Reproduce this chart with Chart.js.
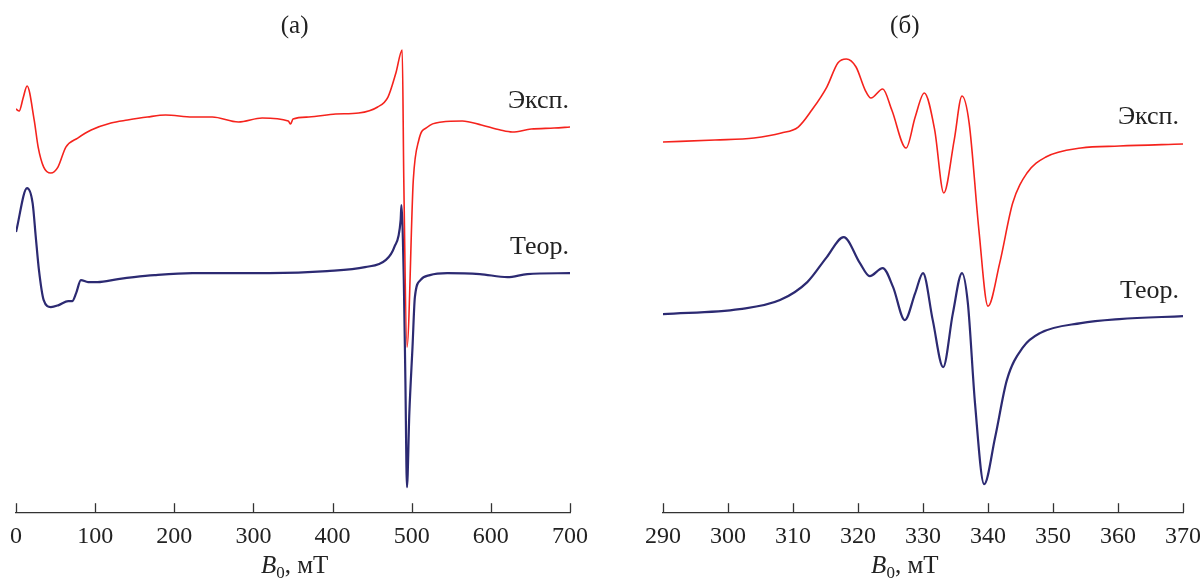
<!DOCTYPE html>
<html>
<head>
<meta charset="utf-8">
<script src="https://cdn.jsdelivr.net/npm/chart.js@4"></script>
<style>
  html, body { margin: 0; padding: 0; background: #fff; }
  #wrap { position: relative; width: 1200px; height: 579px; overflow: hidden; }
  .panel { position: absolute; top: 0; height: 579px; }
</style>
</head>
<body>
<div id="wrap">
  <div class="panel" style="left:0; width:600px"><canvas id="chartA"></canvas></div>
  <div class="panel" style="left:600px; width:620px"><canvas id="chartB"></canvas></div>
</div>
<script>
// (а) field, mT and signal, arb. units
const aExpField = [0, 4, 9, 14, 23, 28, 35, 44, 53, 63, 78, 95, 120, 141, 166, 189, 223, 248, 281, 311, 344, 347, 350, 370, 404, 433, 457, 470, 480, 488, 490, 494, 502, 509, 520, 538, 564, 588, 612, 627, 651, 680, 700];
const aExpSignal = [403, 401, 414, 426, 392, 365, 345, 339, 345, 365, 374, 382, 389, 392, 395, 397, 395, 395, 390, 394, 391, 388, 393, 395, 398, 399, 405, 415, 439, 462, 332, 165, 332, 372, 385, 390, 391, 387, 382, 380, 383, 384, 385];
const aTheoField = [0, 14, 21, 25, 29, 35, 44, 54, 66, 71, 76, 82, 91, 103, 129, 149, 175, 223, 320, 393, 441, 467, 478, 486, 487, 490, 492, 494, 497, 501, 504, 511, 523, 545, 586, 621, 646, 700];
const aTheoSignal = [280, 324, 309, 275, 242, 212, 205, 207, 211, 211, 219, 232, 230, 230, 233, 235, 237, 239, 239, 241, 245, 252, 265, 292, 307, 232, 132, 25, 99, 165, 215, 232, 237, 239, 238, 235, 238, 239];

// (б)
const bExpField = [290, 298, 304, 308.2, 310.8, 312.9, 315.2, 316.9, 318.2, 319.7, 321.1, 322, 323.8, 325.2, 327.4, 328.8, 330.2, 331.8, 333.2, 334.8, 336, 337.1, 338.6, 340, 341.8, 343.8, 346, 348.9, 354.3, 360.2, 370];
const bExpSignal = [370, 372, 374, 379, 385, 402, 425, 449, 453, 445, 422, 414, 423, 402, 364, 395, 419, 382, 319, 372, 416, 389, 282, 206, 249, 309, 339, 355, 364, 366, 368];
const bTheoField = [290, 301.8, 308, 312.2, 315.2, 317.8, 320.3, 321.8, 323.8, 325.4, 327.2, 328.8, 330, 331.5, 333.1, 334.6, 336, 336.9, 338, 339.4, 341.1, 342.9, 345.4, 348, 354.3, 360.2, 370];
const bTheoSignal = [198, 203, 212, 230, 255, 275, 249, 236, 244, 225, 192, 219, 239, 192, 145, 199, 239, 209, 109, 28, 75, 132, 165, 179, 189, 193, 196];

const aTicks = [0, 100, 200, 300, 400, 500, 600, 700];
const bTicks = [290, 300, 310, 320, 330, 340, 350, 360, 370];

const seriesNames = ["Эксп.", "Теор."];
const panelNames = ["(а)", "(б)"];

const RED = "#f5231d";
const BLUE = "#2c2a72";
const INK = "#222";
const SERIF = '"Liberation Serif", "DejaVu Serif", serif';

function pts(xs, ys) {
  return xs.map((x, i) => ({ x: x, y: ys[i] }));
}

// draws inward tick marks, panel letter, axis title and curve names
const panelText = {
  id: "panelText",
  afterDraw(chart, args, o) {
    const { ctx, chartArea, scales } = chart;
    const x = scales.x, y = scales.y;
    ctx.save();
    ctx.strokeStyle = "#333";
    ctx.lineWidth = 1.3;
    x.ticks.forEach(t => {
      const px = Math.round(x.getPixelForValue(t.value)) + 0.5;
      ctx.beginPath();
      ctx.moveTo(px, chartArea.bottom);
      ctx.lineTo(px, chartArea.bottom - 9);
      ctx.stroke();
    });

    ctx.fillStyle = INK;
    ctx.textBaseline = "alphabetic";
    ctx.textAlign = "center";
    ctx.font = "25px " + SERIF;
    const cx = x.getPixelForValue(o.centerAt);
    ctx.fillText(o.letter, cx, 33);

    // B0, мТ
    const base = chartArea.bottom + 61;
    ctx.textAlign = "left";
    ctx.font = "italic 25px " + SERIF;
    const wB = ctx.measureText("B").width;
    ctx.font = "17px " + SERIF;
    const w0 = ctx.measureText("0").width;
    ctx.font = "25px " + SERIF;
    const wU = ctx.measureText(", мТ").width;
    let tx = cx - (wB + w0 + wU) / 2;
    ctx.font = "italic 25px " + SERIF;
    ctx.fillText("B", tx, base);
    tx += wB;
    ctx.font = "17px " + SERIF;
    ctx.fillText("0", tx, base + 5);
    tx += w0;
    ctx.font = "25px " + SERIF;
    ctx.fillText(", мТ", tx, base);

    ctx.font = "26px " + SERIF;
    ctx.textAlign = "right";
    ctx.textBaseline = "middle";
    o.names.forEach((n, i) => {
      ctx.fillText(n, chartArea.right - o.nameInset, y.getPixelForValue(o.nameLevels[i]));
    });
    ctx.restore();
  }
};

function makePanel(id, ticks, expData, theoData, pad, textOpts) {
  new Chart(document.getElementById(id), {
    type: "line",
    data: {
      datasets: [
        { label: seriesNames[0], data: expData, borderColor: RED, borderWidth: 1.6, pointRadius: 0, cubicInterpolationMode: "monotone", fill: false },
        { label: seriesNames[1], data: theoData, borderColor: BLUE, borderWidth: 2.2, pointRadius: 0, cubicInterpolationMode: "monotone", fill: false }
      ]
    },
    options: {
      responsive: true,
      maintainAspectRatio: false,
      animation: false,
      layout: { padding: pad },
      plugins: { legend: { display: false }, tooltip: { enabled: false }, title: { display: false }, panelText: textOpts },
      scales: {
        x: {
          type: "linear",
          min: ticks[0],
          max: ticks[ticks.length - 1],
          afterBuildTicks: s => { s.ticks = ticks.map(v => ({ value: v })); },
          grid: { display: false, drawTicks: false },
          border: { display: true, color: "#333", width: 1.3 },
          ticks: { padding: 10, color: INK, font: { family: SERIF, size: 24 }, maxRotation: 0 }
        },
        y: { display: false, min: 0, max: 472 }
      }
    },
    plugins: [panelText]
  });
}

makePanel("chartA", aTicks, pts(aExpField, aExpSignal), pts(aTheoField, aTheoSignal),
  { left: 15, right: 30, top: 40, bottom: 18 },
  { letter: panelNames[0], centerAt: 352, names: seriesNames, nameLevels: [411, 265], nameInset: 1 });

makePanel("chartB", bTicks, pts(bExpField, bExpSignal), pts(bTheoField, bTheoSignal),
  { left: 63, right: 37, top: 40, bottom: 18 },
  { letter: panelNames[1], centerAt: 327.2, names: seriesNames, nameLevels: [395, 221], nameInset: 4 });
</script>
</body>
</html>
